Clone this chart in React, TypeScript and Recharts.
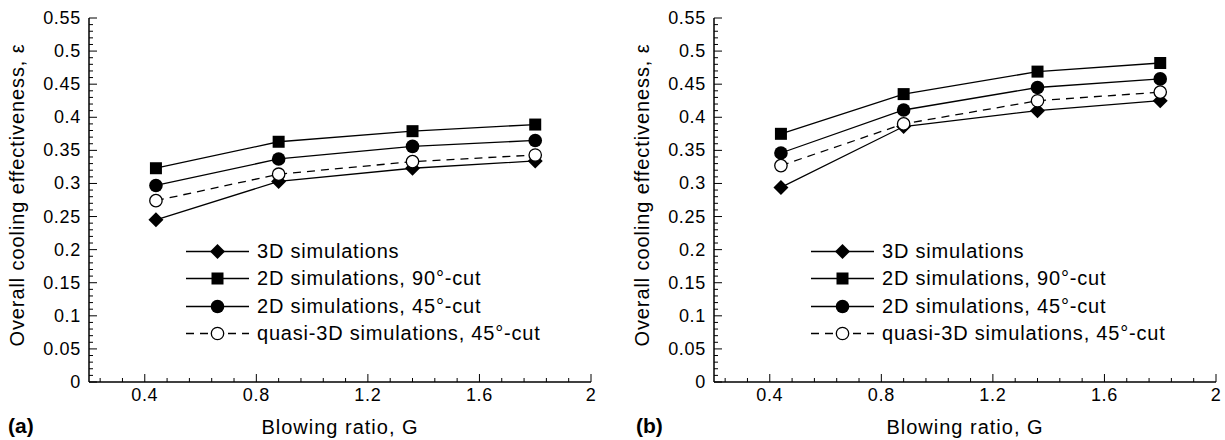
import React from 'react';
import { LineChart, Line, XAxis, YAxis, Legend } from 'recharts';

// Blowing ratio G (x positions of the four cases)
const blowingRatio = [0.44, 0.88, 1.36, 1.8];

// panel (a)
const a3D = [0.245, 0.303, 0.323, 0.334];
const a2D90 = [0.323, 0.363, 0.379, 0.389];
const a2D45 = [0.297, 0.337, 0.356, 0.365];
const aQuasi = [0.274, 0.314, 0.333, 0.343];

// panel (b)
const b3D = [0.294, 0.386, 0.41, 0.425];
const b2D90 = [0.375, 0.435, 0.469, 0.482];
const b2D45 = [0.346, 0.411, 0.445, 0.458];
const bQuasi = [0.327, 0.39, 0.425, 0.438];

// axis ticks
const xMajor = [0.4, 0.8, 1.2, 1.6, 2];
const yMajor = [0, 0.05, 0.1, 0.15, 0.2, 0.25, 0.3, 0.35, 0.4, 0.45, 0.5, 0.55];
const xTicks = Array.from({ length: 23 }, (_, i) => Math.round((0.24 + i * 0.08) * 100) / 100);
const yTicks = Array.from({ length: 56 }, (_, i) => i / 100);

const SERIES = [
  { key: 's3D', name: '3D simulations', marker: 'diamond', dash: undefined },
  { key: 's2D90', name: '2D simulations, 90°-cut', marker: 'square', dash: undefined },
  { key: 's2D45', name: '2D simulations, 45°-cut', marker: 'circle', dash: undefined },
  { key: 'quasi', name: 'quasi-3D simulations, 45°-cut', marker: 'open', dash: '8 6' },
];

const FONT = '"Liberation Sans", Arial, sans-serif';

const buildRows = (s3D: number[], s2D90: number[], s2D45: number[], quasi: number[]) =>
  blowingRatio.map((g, i) => ({ g, s3D: s3D[i], s2D90: s2D90[i], s2D45: s2D45[i], quasi: quasi[i] }));

const panelA = buildRows(a3D, a2D90, a2D45, aQuasi);
const panelB = buildRows(b3D, b2D90, b2D45, bQuasi);

const isMajor = (v: number, list: number[]) => list.some((m) => Math.abs(m - v) < 1e-6);
const fmt = (v: number) => String(Number(v.toFixed(2)));
const seriesIndex = (k: string) => SERIES.findIndex((s) => s.key === k);

const Marker = ({ kind, cx, cy }: any) => {
  if (cx == null || cy == null) return null;
  switch (kind) {
    case 'diamond':
      return <polygon points={`${cx},${cy - 7.5} ${cx + 7.5},${cy} ${cx},${cy + 7.5} ${cx - 7.5},${cy}`} fill="#000" />;
    case 'square':
      return <rect x={cx - 6} y={cy - 6} width={12} height={12} fill="#000" />;
    case 'circle':
      return <circle cx={cx} cy={cy} r={6.8} fill="#000" />;
    default:
      return <circle cx={cx} cy={cy} r={6.2} fill="#fff" stroke="#000" strokeWidth={1.3} />;
  }
};

const XTick = ({ x, y, payload }: any) => {
  const v = payload.value;
  const major = isMajor(v, xMajor);
  return (
    <g>
      <line x1={x} x2={x} y1={y} y2={y - (major ? 8 : 4)} stroke="#000" strokeWidth={1} />
      {major && (
        <text x={x} y={y + 19} textAnchor="middle" fontFamily={FONT} fontSize={18} letterSpacing={0.7} fill="#000">
          {fmt(v)}
        </text>
      )}
    </g>
  );
};

const YTick = ({ x, y, payload }: any) => {
  const v = payload.value;
  const major = isMajor(v, yMajor);
  return (
    <g>
      <line x1={x} x2={x + (major ? 8 : 4)} y1={y} y2={y} stroke="#000" strokeWidth={1} />
      {major && (
        <text x={x - 8} y={y} textAnchor="end" dominantBaseline="central" fontFamily={FONT} fontSize={18} letterSpacing={0.7} fill="#000">
          {fmt(v)}
        </text>
      )}
    </g>
  );
};

const XTitle = ({ viewBox }: any) => {
  const vb = viewBox || { x: 89, y: 382, width: 502, height: 58 };
  return (
    <text x={vb.x + vb.width / 2} y={vb.y + 52} textAnchor="middle" fontFamily={FONT} fontSize={20} letterSpacing={1} fill="#000">
      Blowing ratio, G
    </text>
  );
};

const YTitle = ({ viewBox }: any) => {
  const vb = viewBox || { x: 0, y: 18, width: 89, height: 364 };
  const cx = vb.x + 17;
  const cy = vb.y + vb.height / 2 - 5;
  return (
    <text x={cx} y={cy} transform={`rotate(-90 ${cx} ${cy})`} textAnchor="middle" dominantBaseline="central" fontFamily={FONT} fontSize={20} letterSpacing={0.9} fill="#000">
      Overall cooling effectiveness, ε
    </text>
  );
};

const LegendBox = ({ payload }: any) => {
  const items = [...(payload || [])].sort((p, q) => seriesIndex(p.dataKey) - seriesIndex(q.dataKey));
  return (
    <div style={{ fontFamily: FONT, fontSize: 20, letterSpacing: 0.8, color: '#000' }}>
      {items.map((entry: any) => {
        const s = SERIES[seriesIndex(entry.dataKey)] || SERIES[0];
        return (
          <div key={s.key} style={{ display: 'flex', alignItems: 'center', height: 27.3 }}>
            <svg width={63} height={27} style={{ display: 'block' }}>
              <line x1={0} x2={63} y1={13.5} y2={13.5} stroke="#000" strokeWidth={1.3} strokeDasharray={s.dash} />
              <Marker kind={s.marker} cx={31.5} cy={13.5} />
            </svg>
            <span style={{ marginLeft: 8, whiteSpace: 'nowrap' }}>{entry.value}</span>
          </div>
        );
      })}
    </div>
  );
};

const Panel = ({ data, width, marginRight, tag, tagLeft }: any) => (
  <div style={{ position: 'relative', width, height: 440 }}>
    <LineChart width={width} height={440} data={data} margin={{ top: 18, right: marginRight, bottom: 0, left: 0 }}>
      <XAxis
        dataKey="g"
        type="number"
        domain={[0.2, 2]}
        allowDataOverflow
        ticks={xTicks}
        interval={0}
        tickSize={0}
        tickMargin={0}
        tickLine={false}
        tick={<XTick />}
        axisLine={{ stroke: '#000', strokeWidth: 1.5 }}
        height={58}
        label={<XTitle />}
      />
      <XAxis xAxisId="top" orientation="top" dataKey="g" type="number" domain={[0.2, 2]} height={0} tick={false} tickLine={false} axisLine={{ stroke: '#000', strokeWidth: 1.5 }} />
      <YAxis
        type="number"
        domain={[0, 0.55]}
        allowDataOverflow
        ticks={yTicks}
        interval={0}
        tickSize={0}
        tickMargin={0}
        tickLine={false}
        tick={<YTick />}
        axisLine={{ stroke: '#000', strokeWidth: 1.5 }}
        width={89}
        label={<YTitle />}
      />
      <YAxis yAxisId="right" orientation="right" type="number" domain={[0, 0.55]} width={0} tick={false} tickLine={false} axisLine={{ stroke: '#000', strokeWidth: 1.5 }} />
      <Legend
        layout="vertical"
        align="center"
        verticalAlign="middle"
        content={<LegendBox />}
        wrapperStyle={{ left: 186, top: 238, width: 'auto' }}
      />
      {SERIES.map((s) => (
        <Line
          key={s.key}
          dataKey={s.key}
          name={s.name}
          type="linear"
          stroke="#000"
          strokeWidth={1.3}
          strokeDasharray={s.dash}
          dot={(p: any) => <Marker key={`${s.key}-${p.index}`} kind={s.marker} cx={p.cx} cy={p.cy} />}
          activeDot={false}
          isAnimationActive={false}
        />
      ))}
    </LineChart>
    <div style={{ position: 'absolute', left: tagLeft, top: 415, fontFamily: FONT, fontSize: 21, fontWeight: 'bold', lineHeight: 1, color: '#000' }}>
      {tag}
    </div>
  </div>
);

export default function App() {
  return (
    <div style={{ position: 'absolute', left: 0, top: 0, width: 1225, height: 440, background: '#fff', overflow: 'hidden' }}>
      <div style={{ position: 'absolute', left: 0, top: 0 }}>
        <Panel data={panelA} width={612} marginRight={21} tag="(a)" tagLeft={8} />
      </div>
      <div style={{ position: 'absolute', left: 625, top: 0 }}>
        <Panel data={panelB} width={600} marginRight={9} tag="(b)" tagLeft={11} />
      </div>
    </div>
  );
}
